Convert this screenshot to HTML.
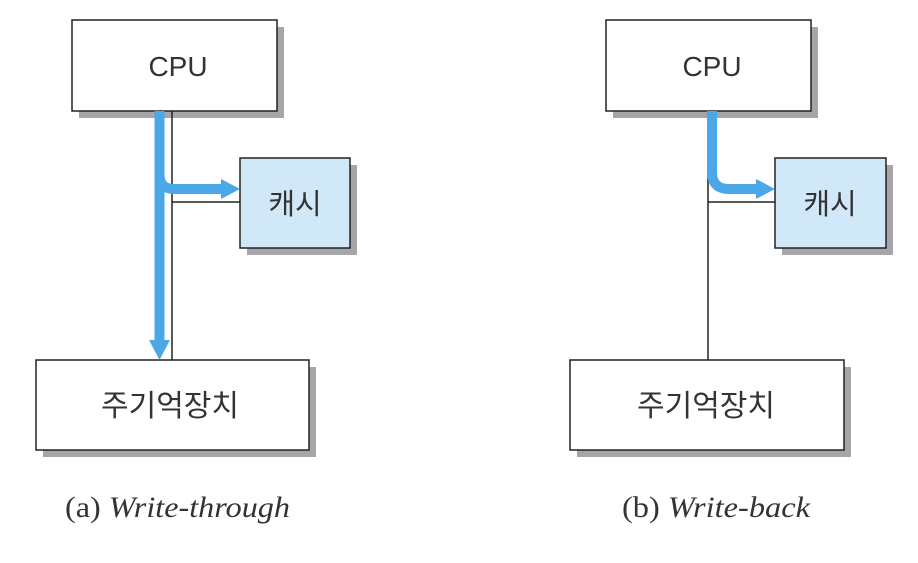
<!DOCTYPE html>
<html><head><meta charset="utf-8"><style>
body{margin:0;background:#fff;width:918px;height:558px;overflow:hidden}
</style></head><body>
<svg width="918" height="558" xmlns="http://www.w3.org/2000/svg">
<g fill="#a6a6aa">
<rect x="79" y="27" width="205" height="91"/>
<rect x="247" y="165" width="110" height="90"/>
<rect x="43" y="367" width="273" height="90"/>
<rect x="613" y="27" width="205" height="91"/>
<rect x="782" y="165" width="111" height="90"/>
<rect x="577" y="367" width="274" height="90"/>
</g>
<g stroke="#222" stroke-width="1.5">
<rect x="72" y="20" width="205" height="91" fill="#fff"/>
<rect x="240" y="158" width="110" height="90" fill="#d0e8f8"/>
<rect x="36" y="360" width="273" height="90" fill="#fff"/>
<rect x="606" y="20" width="205" height="91" fill="#fff"/>
<rect x="775" y="158" width="111" height="90" fill="#d0e8f8"/>
<rect x="570" y="360" width="274" height="90" fill="#fff"/>
<line x1="172" y1="111" x2="172" y2="360"/>
<line x1="172" y1="202" x2="240" y2="202"/>
<line x1="708" y1="111" x2="708" y2="360"/>
<line x1="708" y1="202" x2="775" y2="202"/>
</g>
<g fill="none" stroke="#4aa8e8" stroke-width="10">
<line x1="159.5" y1="111" x2="159.5" y2="342"/>
<path d="M159.5 174 Q159.5 189 174 189 L224 189"/>
<path d="M712 111 L712 172 Q712 189 729 189 L759 189"/>
</g>
<g fill="#4aa8e8">
<polygon points="149,340 170,340 159.5,360"/>
<polygon points="221,179 240,189 221,199"/>
<polygon points="756,179 775,189 756,199"/>
</g>
<g font-family="'Liberation Sans','Noto Sans CJK KR',sans-serif" fill="#333" text-anchor="middle">
<text x="178" y="76" font-size="28">CPU</text>
<text x="712" y="76" font-size="28">CPU</text>
<text x="295" y="214" font-size="29">캐시</text>
<text x="830" y="214" font-size="29">캐시</text>
<text x="170" y="416" font-size="30">주기억장치</text>
<text x="706" y="416" font-size="30">주기억장치</text>
</g>
<g font-family="'Liberation Serif',serif" font-size="30" fill="#333">
<text x="65" y="517" textLength="225" lengthAdjust="spacingAndGlyphs">(a) <tspan font-style="italic">Write-through</tspan></text>
<text x="622" y="517" textLength="188" lengthAdjust="spacingAndGlyphs">(b) <tspan font-style="italic">Write-back</tspan></text>
</g>
</svg>
</body></html>
